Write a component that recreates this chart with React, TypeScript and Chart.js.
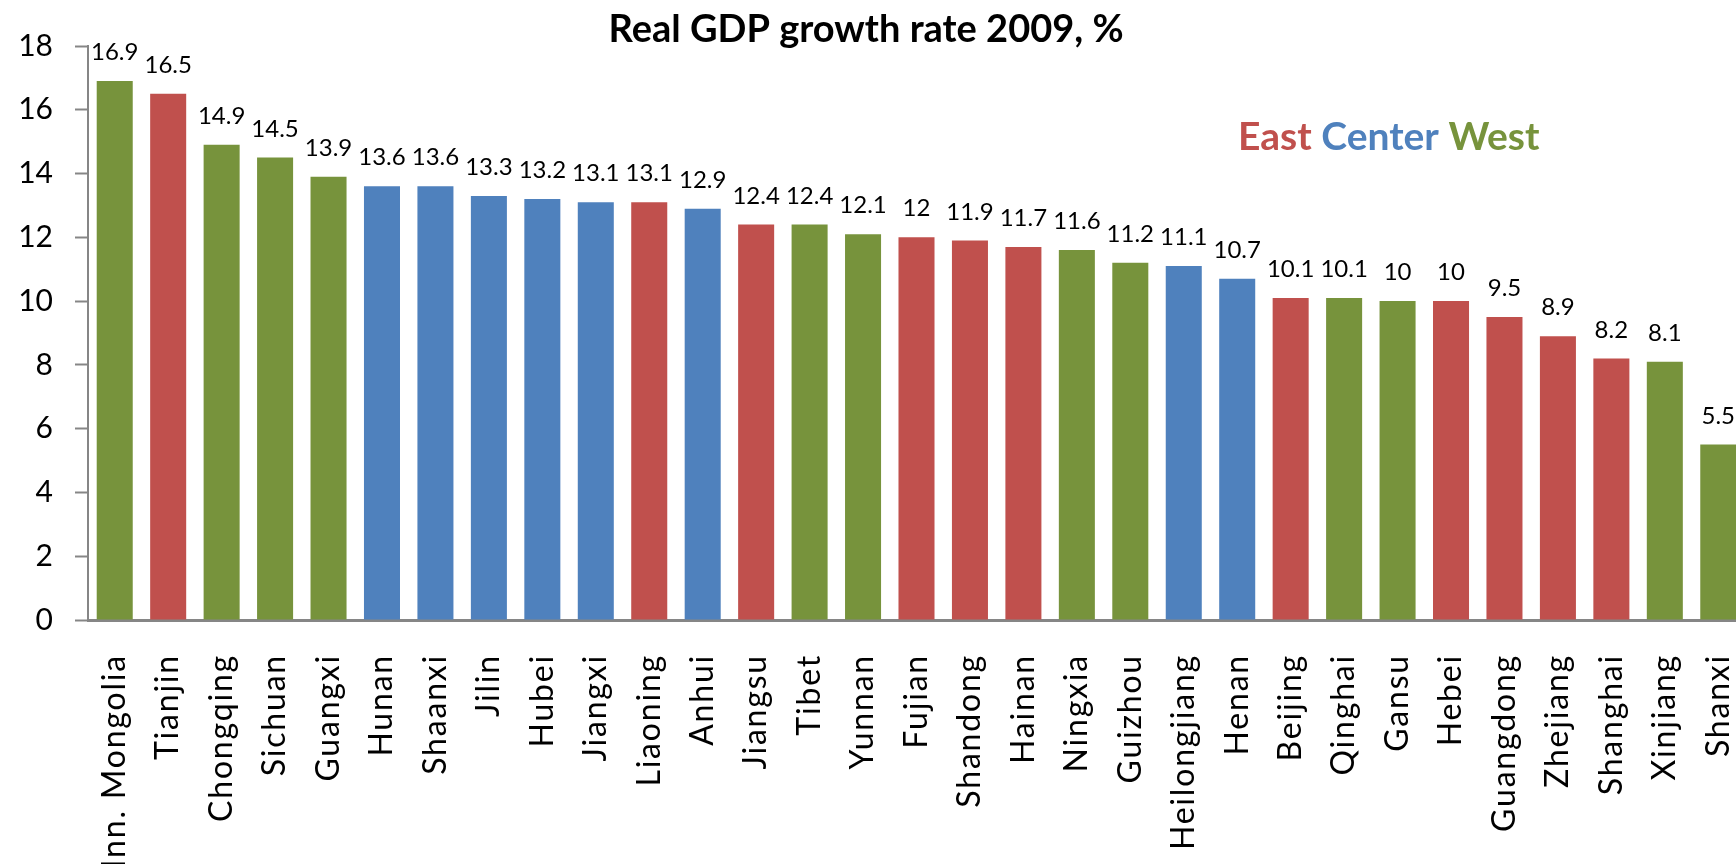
import React, { useEffect, useRef } from "react";
import { Chart, registerables } from "chart.js";

Chart.register(...registerables);

const categories = [
  "Inn. Mongolia", "Tianjin", "Chongqing", "Sichuan", "Guangxi", "Hunan", "Shaanxi",
  "Jilin", "Hubei", "Jiangxi", "Liaoning", "Anhui", "Jiangsu", "Tibet", "Yunnan",
  "Fujian", "Shandong", "Hainan", "Ningxia", "Guizhou", "Heilongjiang", "Henan",
  "Beijing", "Qinghai", "Gansu", "Hebei", "Guangdong", "Zhejiang", "Shanghai",
  "Xinjiang", "Shanxi",
];

const growth = [
  16.9, 16.5, 14.9, 14.5, 13.9, 13.6, 13.6,
  13.3, 13.2, 13.1, 13.1, 12.9, 12.4, 12.4, 12.1,
  12, 11.9, 11.7, 11.6, 11.2, 11.1, 10.7,
  10.1, 10.1, 10, 10, 9.5, 8.9, 8.2,
  8.1, 5.5,
];

const regions = [
  "W", "E", "W", "W", "W", "C", "C",
  "C", "C", "C", "E", "C", "E", "W", "W",
  "E", "E", "E", "W", "W", "C", "C",
  "E", "W", "W", "E", "E", "E", "E",
  "W", "W",
];

const yTicks = [0, 2, 4, 6, 8, 10, 12, 14, 16, 18];

const regionColors: Record<string, string> = {
  E: "#C0504D",
  C: "#4F81BD",
  W: "#77933C",
};

const legendParts = [
  { text: "East", region: "E" },
  { text: "Center", region: "C" },
  { text: "West", region: "W" },
];

const titleText = "Real GDP growth rate 2009, %";
const FONT = "Lato, 'Open Sans', sans-serif";

export default function App() {
  const ref = useRef<HTMLCanvasElement | null>(null);

  useEffect(() => {
    document.body.style.margin = "0";
    document.body.style.overflow = "hidden";
    document.documentElement.style.overflow = "hidden";
    const canvas = ref.current;
    if (!canvas) return;

    const labelPlugin = {
      id: "valueLabels",
      afterDatasetsDraw(chart: any) {
        const ctx = chart.ctx;
        const meta = chart.getDatasetMeta(0);
        ctx.save();
        ctx.font = `24px ${FONT}`;
        ctx.fillStyle = "#000";
        ctx.textAlign = "center";
        ctx.textBaseline = "alphabetic";
        meta.data.forEach((bar: any, i: number) => {
          ctx.fillText(String(growth[i]), bar.x, bar.y - 21);
        });
        ctx.restore();

        // category labels, rotated, read bottom-to-top
        const xs = chart.scales.x;
        const axisY = chart.chartArea.bottom;
        ctx.save();
        ctx.font = `32px ${FONT}`;
        (ctx as any).letterSpacing = "1.8px";
        ctx.fillStyle = "#000";
        ctx.textAlign = "right";
        ctx.textBaseline = "middle";
        categories.forEach((c, i) => {
          const x = xs.getPixelForValue(i);
          ctx.save();
          ctx.translate(x, axisY + 34);
          ctx.rotate(-Math.PI / 2);
          ctx.fillText(c, 0, 0);
          ctx.restore();
        });
        ctx.restore();
      },
      afterDraw(chart: any) {
        const ctx = chart.ctx;
        ctx.save();
        ctx.font = `bold 38px ${FONT}`;
        ctx.fillStyle = "#000";
        ctx.textAlign = "center";
        ctx.textBaseline = "alphabetic";
        ctx.fillText(titleText, 866, 42);
        ctx.font = `bold 39px ${FONT}`;
        ctx.textAlign = "left";
        let x = 1238;
        const space = ctx.measureText(" ").width;
        legendParts.forEach((p) => {
          ctx.fillStyle = regionColors[p.region];
          ctx.fillText(p.text, x, 150);
          x += ctx.measureText(p.text).width + space;
        });
        ctx.restore();
      },
    };

    const chart = new Chart(canvas, {
      type: "bar",
      data: {
        labels: categories,
        datasets: [
          {
            data: growth,
            backgroundColor: regions.map((r) => regionColors[r]),
            borderWidth: 0,
            barPercentage: 0.674,
            categoryPercentage: 1,
          },
        ],
      },
      options: {
        animation: false,
        responsive: false,
        maintainAspectRatio: false,
        layout: { padding: { top: 46, left: 0, right: 0, bottom: 0 } },
        plugins: {
          legend: { display: false },
          title: { display: false },
          tooltip: { enabled: false },
        },
        scales: {
          x: {
            grid: { display: false, drawTicks: false },
            border: { display: true, color: "#868686", width: 3 },
            ticks: { display: false, autoSkip: false },
            afterFit(scale: any) {
              scale.height = 244;
              scale.paddingLeft = 0;
              scale.paddingRight = 0;
            },
          },
          y: {
            min: 0,
            max: 18,
            afterBuildTicks(scale: any) {
              scale.ticks = yTicks.map((v) => ({ value: v }));
            },
            grid: {
              drawOnChartArea: false,
              drawTicks: true,
              tickLength: 13,
              tickWidth: 2,
              tickColor: "#868686",
            },
            border: { display: true, color: "#868686", width: 2 },
            ticks: {
              padding: 22,
              color: "#000",
              font: { family: FONT, size: 30 },
            },
            afterFit(scale: any) {
              scale.width = 88;
            },
          },
        },
      },
      plugins: [labelPlugin],
    });

    return () => chart.destroy();
  }, []);

  return (
    <div style={{ width: 1745, height: 864 }}>
      <canvas ref={ref} width={1745} height={864} style={{ display: "block" }} />
    </div>
  );
}
